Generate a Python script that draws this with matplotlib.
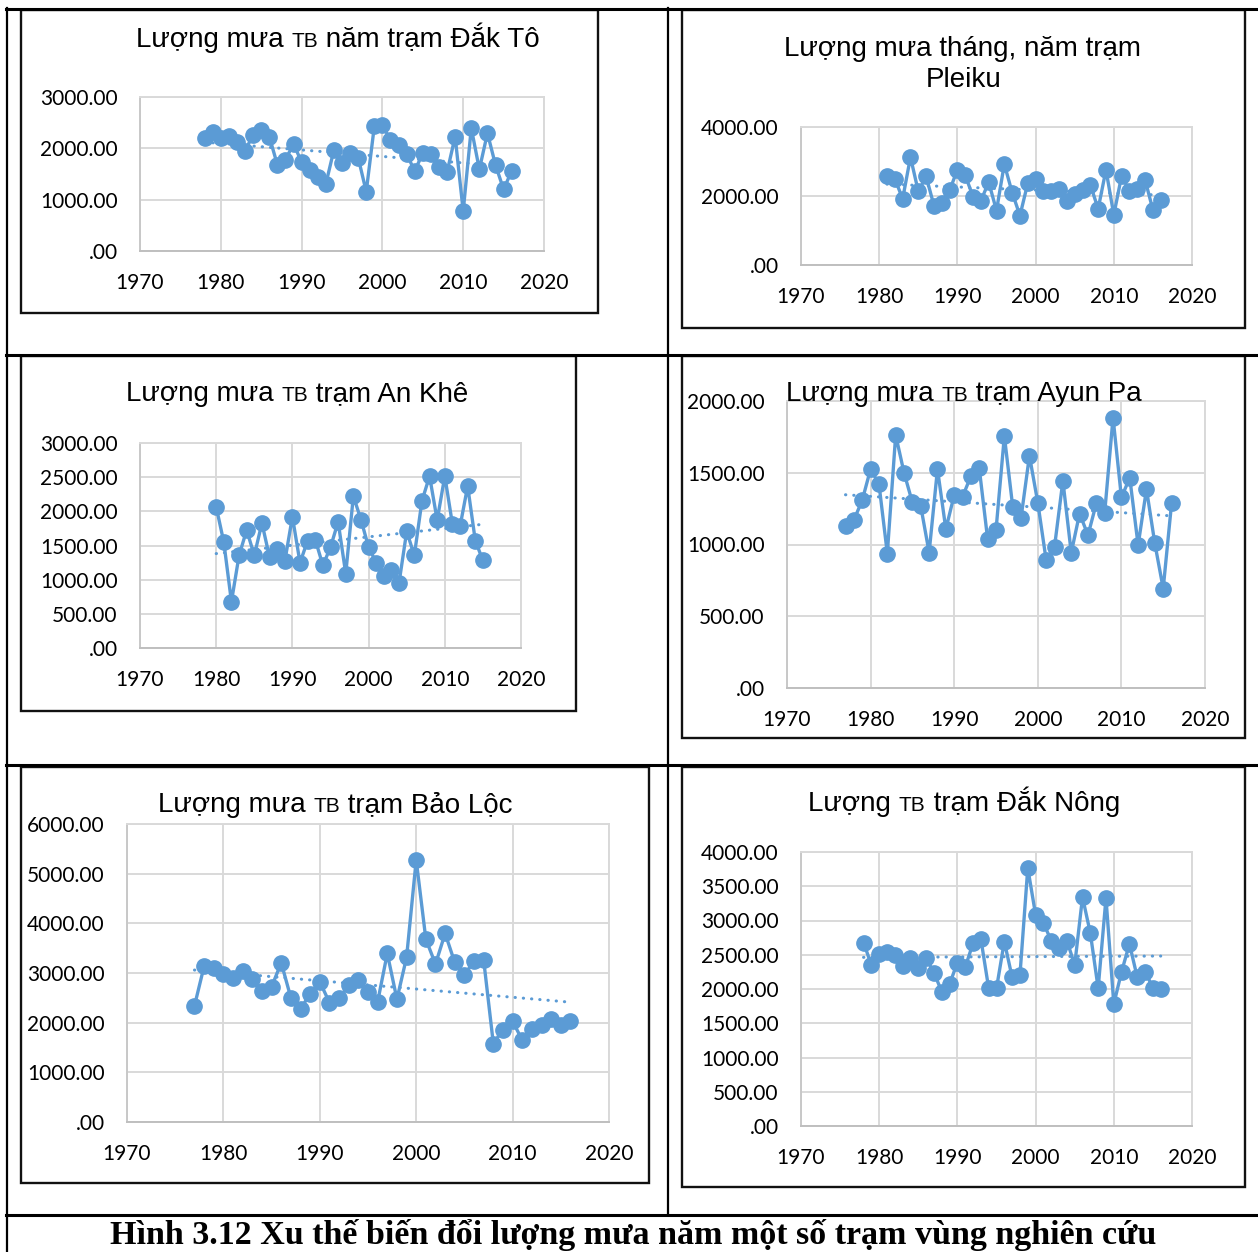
import numpy as np
import matplotlib
matplotlib.use("Agg")
import matplotlib.pyplot as plt
from matplotlib.lines import Line2D
from matplotlib.patches import Rectangle
from matplotlib.ticker import FuncFormatter, MultipleLocator

# ---------------- data ----------------
years_dakto = list(range(1978, 2017))
rain_dakto = [2200, 2320, 2200, 2250, 2130, 1950, 2265, 2360, 2230, 1680, 1775, 2090, 1730,
              1580, 1450, 1305, 1970, 1710, 1905, 1820, 1155, 2430, 2460, 2155, 2070, 1885,
              1560, 1905, 1890, 1645, 1535, 2230, 775, 2395, 1590, 2295, 1675, 1200, 1560]

years_pleiku = list(range(1981, 2017))
rain_pleiku = [2567, 2499, 1918, 3128, 2131, 2567, 1724, 1792, 2160, 2760, 2596, 1985, 1860,
               2402, 1579, 2925, 2101, 1433, 2373, 2499, 2150, 2131, 2208, 1869, 2053, 2179,
               2324, 1627, 2760, 1453, 2586, 2150, 2208, 2470, 1598, 1889]

years_ankhe = list(range(1980, 2016))
rain_ankhe = [2065, 1547, 677, 1354, 1726, 1354, 1828, 1330, 1451, 1267, 1920, 1248, 1572,
              1586, 1209, 1475, 1847, 1088, 2224, 1876, 1475, 1248, 1054, 1146, 957, 1707,
              1354, 2152, 2515, 1871, 2515, 1813, 1779, 2369, 1572, 1281]

years_ayunpa = list(range(1977, 2017))
rain_ayunpa = [1128, 1170, 1309, 1526, 1421, 937, 1763, 1500, 1293, 1267, 944, 1526, 1107,
               1344, 1333, 1477, 1530, 1037, 1100, 1756, 1263, 1188, 1619, 1291, 891, 984,
               1444, 942, 1216, 1065, 1286, 1221, 1884, 1328, 1465, 995, 1386, 1007, 693, 1286]

years_baoloc = list(range(1977, 2017))
rain_baoloc = [2339, 3138, 3091, 2970, 2903, 3044, 2870, 2634, 2722, 3206, 2500, 2272, 2587,
               2823, 2406, 2487, 2755, 2856, 2621, 2419, 3394, 2473, 3313, 5276, 3683, 3179,
               3797, 3212, 2957, 3246, 3259, 1579, 1862, 2030, 1647, 1868, 1949, 2083, 1949, 2036]

years_daknong = list(range(1978, 2017))
rain_daknong = [2678, 2351, 2507, 2546, 2498, 2337, 2449, 2312, 2449, 2239, 1961, 2073, 2385,
                2317, 2668, 2732, 2010, 2010, 2693, 2171, 2205, 3766, 3083, 2961, 2707, 2595,
                2707, 2351, 3341, 2815, 2010, 3327, 1780, 2254, 2659, 2171, 2254, 2020, 2000]

x_ticks = [1970, 1980, 1990, 2000, 2010, 2020]

title_dakto = [("Lượng mưa ", "b"), ("TB", "s"), (" năm trạm Đắk Tô", "b")]
title_pleiku = ["Lượng mưa tháng, năm trạm", "Pleiku"]
title_ankhe = [("Lượng mưa ", "b"), ("TB", "s"), (" trạm An Khê", "b")]
title_ayunpa = [("Lượng mưa ", "b"), ("TB", "s"), (" trạm Ayun Pa", "b")]
title_baoloc = [("Lượng mưa ", "b"), ("TB", "s"), (" trạm Bảo Lộc", "b")]
title_daknong = [("Lượng ", "b"), ("TB", "s"), (" trạm Đắk Nông", "b")]

caption = "Hình 3.12 Xu thế biến đổi lượng mưa năm một số trạm vùng nghiên cứu"

# ---------------- style ----------------
W, H = 1258, 1252
BLUE = "#5B9BD5"
GRID = "#D9D9D9"
TICKFONT = "Lato"
TITLEFONT = "Liberation Sans"
TICKSIZE = 15
TITLESIZE = 20
SMALLSIZE = 15

fig = plt.figure(figsize=(W / 100, H / 100), dpi=100)
renderer = fig.canvas.get_renderer()


def rect(x0, y0, x1, y1):
    return [x0 / W, 1 - y1 / H, (x1 - x0) / W, (y1 - y0) / H]


def fmt(v, pos=None):
    s = f"{v:.2f}"
    return ".00" if s == "0.00" else s


def hline(y, x0, x1, lw):
    fig.add_artist(Line2D([x0 / W, x1 / W], [1 - y / H, 1 - y / H],
                          transform=fig.transFigure, color="black", lw=lw))


def vline(x, y0, y1, lw):
    fig.add_artist(Line2D([x / W, x / W], [1 - y0 / H, 1 - y1 / H],
                          transform=fig.transFigure, color="black", lw=lw))


def box(x0, y0, x1, y1):
    fig.add_artist(Rectangle((x0 / W, 1 - y1 / H), (x1 - x0) / W, (y1 - y0) / H,
                             transform=fig.transFigure, fill=False,
                             edgecolor="#111111", lw=1.7))


def rich_title(cx, baseline, parts):
    texts, widths = [], []
    for s, kind in parts:
        fs = TITLESIZE if kind == "b" else SMALLSIZE
        t = fig.text(0, 1 - baseline / H, s, fontsize=fs, family=TITLEFONT,
                     ha="left", va="baseline", color="#000000")
        widths.append(t.get_window_extent(renderer).width)
        texts.append(t)
    x = cx - sum(widths) / 2
    for t, w in zip(texts, widths):
        t.set_x(x / W)
        x += w


def chart(px, years, vals, ymax, ystep):
    ax = fig.add_axes(rect(*px))
    ax.set_xlim(1970, 2020)
    ax.set_ylim(0, ymax)
    ax.set_xticks(x_ticks)
    ax.yaxis.set_major_locator(MultipleLocator(ystep))
    ax.yaxis.set_major_formatter(FuncFormatter(fmt))
    ax.grid(True, color=GRID, lw=1.4)
    ax.set_axisbelow(True)
    for sp in ax.spines.values():
        sp.set_color(GRID)
        sp.set_linewidth(1.4)
    ax.spines["bottom"].set_color("#BFBFBF")
    ax.spines["left"].set_color("#C8C8C8")
    ax.tick_params(length=0, pad=16, labelsize=TICKSIZE)
    for lab in ax.get_xticklabels() + ax.get_yticklabels():
        lab.set_family(TICKFONT)
    ax.plot(years, vals, color=BLUE, lw=2.4, marker="o", markersize=11,
            markerfacecolor=BLUE, markeredgecolor=BLUE, zorder=3, clip_on=False)
    k, b = np.polyfit(years, vals, 1)
    xs = np.array([years[0], years[-1]])
    ax.plot(xs, k * xs + b, color=BLUE, lw=2.2, linestyle=(0, (0.1, 2.6)),
            dash_capstyle="round", zorder=4)
    return ax


# ---------------- table lines ----------------
hline(9, 6, 1258, 2.2)
hline(355, 6, 1258, 2.2)
hline(765, 6, 1258, 2.2)
hline(1215, 6, 1258, 2.2)
vline(7, 8, 1252, 1.6)
vline(668, 8, 1215, 1.6)

# ---------------- chart boxes ----------------
box(21, 10, 598, 313)
box(682, 10, 1245, 328)
box(21, 356, 576, 711)
box(682, 356, 1245, 738)
box(21, 767, 649, 1183)
box(682, 767, 1245, 1187)

# ---------------- charts ----------------
chart((140, 97, 544, 251), years_dakto, rain_dakto, 3000, 1000)
chart((801, 127, 1192, 265), years_pleiku, rain_pleiku, 4000, 2000)
chart((140, 443, 521, 648), years_ankhe, rain_ankhe, 3000, 500)
chart((787, 401, 1205, 688), years_ayunpa, rain_ayunpa, 2000, 500)
chart((127, 824, 609, 1122), years_baoloc, rain_baoloc, 6000, 1000)
chart((801, 852, 1192, 1126), years_daknong, rain_daknong, 4000, 500)

# ---------------- titles ----------------
rich_title(338, 47, title_dakto)
fig.text(963 / W, 1 - 56 / H, title_pleiku[0], fontsize=TITLESIZE, family=TITLEFONT,
         ha="center", va="baseline")
fig.text(964 / W, 1 - 87 / H, title_pleiku[1], fontsize=TITLESIZE, family=TITLEFONT,
         ha="center", va="baseline")
rich_title(297, 401, title_ankhe)
rich_title(964, 401, title_ayunpa)
rich_title(335, 812, title_baoloc)
rich_title(964, 811, title_daknong)

fig.text(633 / W, 1 - 1244 / H, caption, fontsize=24.5, family="Liberation Serif",
         fontweight="bold", ha="center", va="baseline")

fig.savefig("out.png", dpi=100, facecolor="white")
